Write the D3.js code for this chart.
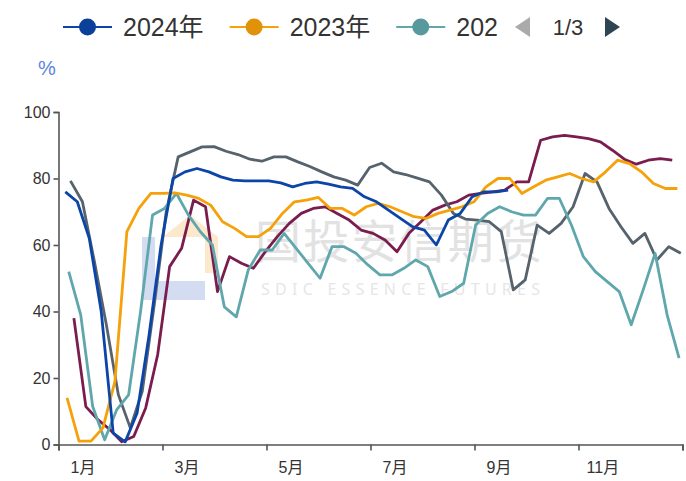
<!DOCTYPE html>
<html>
<head>
<meta charset="utf-8">
<script src="https://cdn.jsdelivr.net/npm/d3@7"></script>
<style>
  body { margin: 0; background: #fff; }
  svg { display: block; font-family: "Liberation Sans", "Noto Sans CJK SC", sans-serif; }
</style>
</head>
<body>
<svg id="chart"></svg>
<script>
// series names, colours and the date of each series' first weekly reading
var years = ["2024年", "2023年", "2022年", "2021年", "2020年"];
var colors = ["#0b45a8", "#f5a10a", "#5fa7ac", "#56626c", "#7b1c4e"];
var firstDates = ["2024-01-05", "2023-01-06", "2022-01-07", "2021-01-08", "2020-01-10"];

// weekly values (%)
var v2024 = [76, 73, 62, 40, 3.4, 0.8, 9.5, 33, 60, 80, 82, 83, 82, 80.5, 79.5, 79.3, 79.3, 79.3, 78.7, 77.5,
  78.5, 79, 78.3, 77.5, 77, 74.5, 73, 70.5, 68, 65.5, 64.5, 60, 67.5, 69.5, 74.5, 76, 76, 76.5];
var v2023 = [14, 1, 1, 5, 19, 64, 71, 75.5, 75.5, 75.7, 75, 74, 72, 67, 65, 62.5, 62.5, 65, 69.5, 73,
  73.5, 74.3, 71, 71, 69, 71.5, 72.5, 71.5, 70, 68.5, 68, 69.5, 70.5, 71.5, 73, 77.5, 80, 80, 75.5, 77.5,
  79.5, 80.5, 81.5, 80, 79, 82, 85.5, 84.5, 82, 78.5, 77, 77];
var v2022 = [52, 39, 11.4, 1.4, 10.4, 14.9, 40, 69, 71, 75.5, 69, 64, 60, 41.4, 38.4, 52.5, 58.5, 58.5, 63.5, 59,
  54.5, 50, 59.5, 59.5, 57.5, 54, 51, 51, 53, 55.5, 53.5, 44.5, 46, 48.5, 66, 69.5, 71.5, 70, 69, 69,
  74, 74, 66, 56.5, 52, 49, 46, 36, 46.5, 57.5, 39, 26];
var v2021 = [79.3, 73, 55, 36, 15, 5, 16, 42, 70, 86.5, 88, 89.5, 89.6, 88.2, 87.2, 85.8, 85.2, 86.5, 86.5, 85,
  83.6, 82, 80.5, 79.5, 78, 83.3, 84.6, 82, 81.2, 80.1, 79, 75, 69.5, 67.8, 67.5, 67, 64, 46.5, 49.5, 66,
  63.5, 66.5, 71.5, 81.5, 79, 71, 65.5, 60.5, 63.5, 55.5, 59.5, 57.5];
var v2020 = [38, 11.4, 7.5, 4.5, 0.8, 2.4, 11, 27, 53.5, 59, 73.5, 71.5, 46, 56.5, 54.5, 53, 58, 62.5, 66.5, 69.5,
  71, 71.5, 69.5, 67.5, 64.5, 63.5, 61.5, 58, 63.5, 67, 70.5, 72, 73, 75, 75.5, 76, 76.5, 79, 79, 91.5,
  92.5, 93, 92.5, 92, 91, 88.5, 85.8, 84.3, 85.5, 86, 85.5];
var seriesValues = [v2024, v2023, v2022, v2021, v2020];

// axis ticks
var yTicks = [0, 20, 40, 60, 80, 100];
var monthLabels = ["1月", "3月", "5月", "7月", "9月", "11月"];

var svgWidth = 686, svgHeight = 481;
var margin = { top: 112, right: 3.5, bottom: 36.5, left: 58.5 };

var svg = d3.select("#chart")
  .attr("width", svgWidth)
  .attr("height", svgHeight);

var parseDate = d3.timeParse("%Y-%m-%d");
var startDays = firstDates.map(function(s) {
  var d = parseDate(s);
  return d3.timeDay.count(d3.timeYear(d), d);
});

var x = d3.scaleLinear()
  .domain([0, 365])
  .range([margin.left, svgWidth - margin.right]);

var y = d3.scaleLinear()
  .domain([0, 100])
  .range([svgHeight - margin.bottom, margin.top]);

// tick marks every two months, month labels sit in the middle of the month
var tickDays = d3.range(7).map(function(i) { return 365 * i / 6; });
var labelDays = tickDays.slice(0, 6).map(function(d) { return d + 14; });

/*
Watermark
*/
var wm = svg.append("g").attr("class", "watermark");
wm.append("polygon")
  .attr("points", "163,237 190,215 218,237")
  .attr("fill", "#fce8cc");
wm.append("rect").attr("x", 205).attr("y", 237).attr("width", 13).attr("height", 36).attr("fill", "#fce8cc");
wm.append("rect").attr("x", 142).attr("y", 237).attr("width", 13).attr("height", 63).attr("fill", "#d3dcf0");
wm.append("rect").attr("x", 142).attr("y", 281).attr("width", 63).attr("height", 19).attr("fill", "#d3dcf0");
wm.append("text")
  .attr("x", 255).attr("y", 258)
  .attr("font-size", 46)
  .attr("font-family", "Noto Sans CJK SC")
  .attr("fill", "#e2e2e2")
  .attr("textLength", 287)
  .attr("lengthAdjust", "spacing")
  .text("国投安信期货");
wm.append("text")
  .attr("x", 261).attr("y", 295)
  .attr("font-size", 16)
  .attr("font-family", "Noto Sans")
  .attr("fill", "#e6e6e6")
  .attr("textLength", 279)
  .attr("lengthAdjust", "spacing")
  .text("SDIC ESSENCE FUTURES");

/*
Axes
*/
var yAxis = svg.append("g")
  .attr("transform", "translate(" + margin.left + ",0)")
  .call(d3.axisLeft(y).tickValues(yTicks).tickSize(5).tickPadding(3));

var xAxis = svg.append("g")
  .attr("transform", "translate(0," + y(0) + ")")
  .call(d3.axisBottom(x).tickValues(tickDays).tickSize(6).tickFormat(""));

var xLabels = svg.append("g")
  .attr("transform", "translate(0," + y(0) + ")")
  .call(d3.axisBottom(x).tickValues(labelDays).tickSize(0).tickPadding(17)
    .tickFormat(function(d, i) { return monthLabels[i]; }));
xLabels.select(".domain").remove();

[yAxis, xAxis, xLabels].forEach(function(g) {
  g.selectAll(".domain, line").attr("stroke", "#555").attr("stroke-width", 1.6);
  g.selectAll("text").attr("fill", "#333").attr("font-size", 16)
    .attr("font-family", "Liberation Sans, Noto Sans CJK SC");
});

svg.append("text")
  .attr("x", 47).attr("y", 75)
  .attr("text-anchor", "middle")
  .attr("font-size", 20)
  .attr("fill", "#5b84e0")
  .text("%");

/*
Lines (oldest first so 2024 ends up on top)
*/
var lines = svg.append("g").attr("class", "lines");
for (var s = seriesValues.length - 1; s >= 0; s--) {
  (function(s) {
    var line = d3.line()
      .x(function(d, i) { return x(startDays[s] + 7 * i); })
      .y(function(d) { return y(d); });
    lines.append("path")
      .datum(seriesValues[s])
      .attr("fill", "none")
      .attr("stroke", colors[s])
      .attr("stroke-width", 2.8)
      .attr("stroke-linejoin", "round")
      .attr("d", line);
  })(s);
}

/*
Legend (page 1 of 3, third name cut off by the pager)
*/
var defs = svg.append("defs");
defs.append("clipPath").attr("id", "legend-clip")
  .append("rect").attr("x", 0).attr("y", 0).attr("width", 498).attr("height", 60);

var legend = svg.append("g").attr("clip-path", "url(#legend-clip)");
var lx = 63, ly = 27, iconW = 49;
for (var k = 0; k < 3; k++) {
  var item = legend.append("g").attr("transform", "translate(" + lx + "," + ly + ")");
  item.append("line")
    .attr("x1", 0).attr("x2", iconW)
    .attr("stroke", colors[k]).attr("stroke-width", 2);
  item.append("circle")
    .attr("cx", iconW / 2).attr("r", 8.5)
    .attr("fill", d3.color(colors[k]).darker(0.25));
  var t = item.append("text")
    .attr("x", iconW + 11).attr("y", 9)
    .attr("font-size", 25)
    .attr("fill", "#333")
    .text(years[k]);
  lx += iconW + 11 + t.node().getComputedTextLength() + 26;
}

// pager
svg.append("path")
  .attr("d", "M530,17 L515,27 L530,37 Z")
  .attr("fill", "#aaa");
svg.append("text")
  .attr("x", 568).attr("y", 35)
  .attr("text-anchor", "middle")
  .attr("font-size", 22)
  .attr("fill", "#333")
  .text("1/3");
svg.append("path")
  .attr("d", "M605,17 L620,27 L605,37 Z")
  .attr("fill", "#2f4554");
</script>
</body>
</html>
